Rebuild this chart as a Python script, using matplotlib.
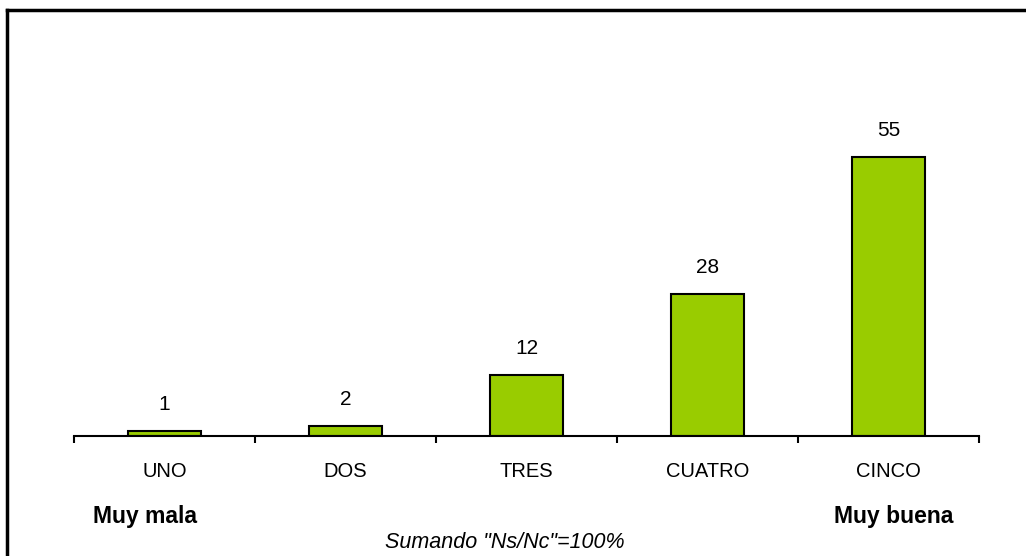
import matplotlib.pyplot as plt
from matplotlib.lines import Line2D

plt.rcParams['font.family'] = ['Liberation Sans', 'DejaVu Sans']

categories = ['UNO', 'DOS', 'TRES', 'CUATRO', 'CINCO']
values = [1, 2, 12, 28, 55]
bar_color = '#99cc00'

fig = plt.figure(figsize=(10.26, 5.56), dpi=100)
ax = fig.add_axes([0.0721, 0.2158, 0.8821, 0.6763])

x = list(range(len(categories)))
bars = ax.bar(x, values, width=0.4, color=bar_color, edgecolor='black', linewidth=1.5)
for xi, v in zip(x, values):
    ax.annotate(str(v), (xi, v), xytext=(0, 12), textcoords='offset points',
                ha='center', va='bottom', fontsize=15)

ax.set_xlim(-0.5, len(categories) - 0.5)
ax.set_ylim(0, 74)
ax.set_xticks([i - 0.5 for i in range(len(categories) + 1)])
ax.set_xticklabels([])
ax.set_xticks(x, minor=True)
ax.set_xticklabels(categories, minor=True, fontsize=14.5)
ax.tick_params(axis='x', which='major', direction='out', length=5, width=1.5)
ax.tick_params(axis='x', which='minor', length=0, pad=19)
ax.set_yticks([])
for s in ['top', 'right', 'left']:
    ax.spines[s].set_visible(False)
ax.spines['bottom'].set_linewidth(1.5)

fig.text(93 / 1026, 1 - 517 / 556, 'Muy mala', fontsize=16.5, fontweight='bold', ha='left', va='center')
fig.text(953 / 1026, 1 - 517 / 556, 'Muy buena', fontsize=16.5, fontweight='bold', ha='right', va='center')
fig.text(505 / 1026, 1 - 543 / 556, 'Sumando "Ns/Nc"=100%', fontsize=15.5, style='italic', ha='center', va='center')

# chart frame (only left and top edges visible)
fig.add_artist(Line2D([7 / 1026, 7 / 1026], [0, 1 - 10 / 556], color='black', linewidth=2.5, transform=fig.transFigure))
fig.add_artist(Line2D([7 / 1026, 1], [1 - 10 / 556, 1 - 10 / 556], color='black', linewidth=2.5, transform=fig.transFigure))

fig.savefig('out.png', dpi=100)
